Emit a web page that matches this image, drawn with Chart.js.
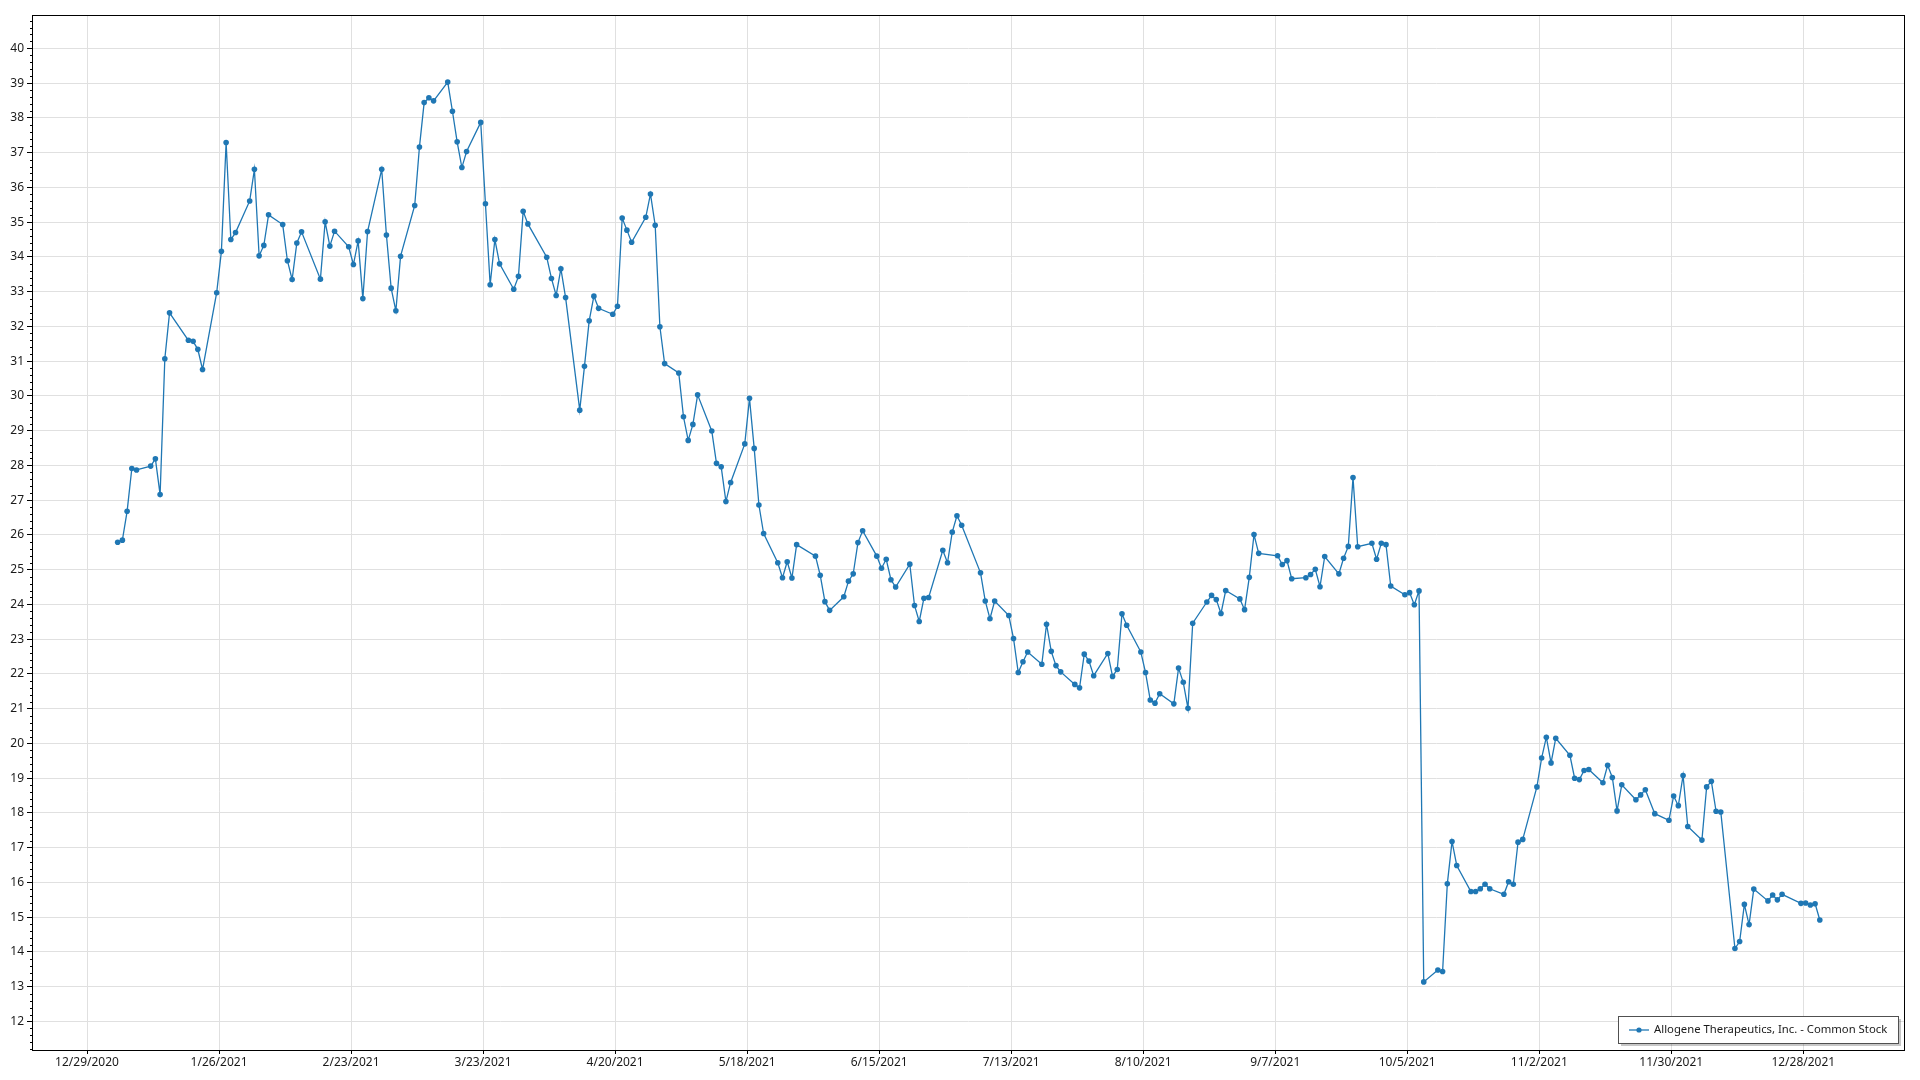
<!DOCTYPE html>
<html>
<head>
<meta charset="utf-8">
<title>Allogene Therapeutics, Inc. - Common Stock</title>
<script src="https://cdn.jsdelivr.net/npm/chart.js@4.4.1/dist/chart.umd.min.js"></script>
<style>
    html, body { margin: 0; padding: 0; background: #fff; }
    #wrap { width: 1920px; height: 1080px; position: relative; }
</style>
</head>
<body>
<div id="wrap"><canvas id="price"></canvas></div>
<script>
// Series name shown in the legend box
const seriesLabel = 'Allogene Therapeutics, Inc. - Common Stock'

// Date ticks on the bottom axis (every 4 weeks)
const tickLabels = [
    '12/29/2020', '1/26/2021', '2/23/2021', '3/23/2021', '4/20/2021',
    '5/18/2021', '6/15/2021', '7/13/2021', '8/10/2021', '9/7/2021',
    '10/5/2021', '11/2/2021', '11/30/2021', '12/28/2021'
]

// Trading days of 2021, one row per month (Jan..Dec)
const tradingDays = [
    [4, 5, 6, 7, 8, 11, 12, 13, 14, 15, 19, 20, 21, 22, 25, 26, 27, 28, 29],
    [1, 2, 3, 4, 5, 8, 9, 10, 11, 12, 16, 17, 18, 19, 22, 23, 24, 25, 26],
    [1, 2, 3, 4, 5, 8, 9, 10, 11, 12, 15, 16, 17, 18, 19, 22, 23, 24, 25, 26, 29, 30, 31],
    [1, 5, 6, 7, 8, 9, 12, 13, 14, 15, 16, 19, 20, 21, 22, 23, 26, 27, 28, 29, 30],
    [3, 4, 5, 6, 7, 10, 11, 12, 13, 14, 17, 18, 19, 20, 21, 24, 25, 26, 27, 28],
    [1, 2, 3, 4, 7, 8, 9, 10, 11, 14, 15, 16, 17, 18, 21, 22, 23, 24, 25, 28, 29, 30],
    [1, 2, 6, 7, 8, 9, 12, 13, 14, 15, 16, 19, 20, 21, 22, 23, 26, 27, 28, 29, 30],
    [2, 3, 4, 5, 6, 9, 10, 11, 12, 13, 16, 17, 18, 19, 20, 23, 24, 25, 26, 27, 30, 31],
    [1, 2, 3, 7, 8, 9, 10, 13, 14, 15, 16, 17, 20, 21, 22, 23, 24, 27, 28, 29, 30],
    [1, 4, 5, 6, 7, 8, 11, 12, 13, 14, 15, 18, 19, 20, 21, 22, 25, 26, 27, 28, 29],
    [1, 2, 3, 4, 5, 8, 9, 10, 11, 12, 15, 16, 17, 18, 19, 22, 23, 24, 26, 29, 30],
    [1, 2, 3, 6, 7, 8, 9, 10, 13, 14, 15, 16, 17, 20, 21, 22, 23, 27, 28, 29, 30, 31]
]

// Closing price for each of those days
const closePrices = [
    [25.79, 25.85, 26.68, 27.91, 27.87, 27.98, 28.19, 27.16, 31.07, 32.39, 31.60, 31.57, 31.34, 30.76, 32.97, 34.16, 37.29, 34.50, 34.70],
    [35.61, 36.52, 34.03, 34.33, 35.21, 34.93, 33.89, 33.35, 34.40, 34.72, 33.36, 35.01, 34.31, 34.74, 34.29, 33.78, 34.46, 32.80, 34.73],
    [36.52, 34.63, 33.10, 32.45, 34.02, 35.48, 37.16, 38.44, 38.58, 38.49, 39.03, 38.19, 37.31, 36.57, 37.03, 37.87, 35.53, 33.20, 34.50, 33.80, 33.07, 33.44, 35.31],
    [34.95, 33.99, 33.38, 32.89, 33.66, 32.83, 29.59, 30.85, 32.16, 32.87, 32.52, 32.35, 32.58, 35.12, 34.77, 34.42, 35.14, 35.81, 34.91, 31.99, 30.93],
    [30.66, 29.40, 28.72, 29.18, 30.03, 28.99, 28.06, 27.96, 26.96, 27.51, 28.62, 29.93, 28.49, 26.86, 26.04, 25.20, 24.77, 25.23, 24.76, 25.72],
    [25.39, 24.84, 24.08, 23.83, 24.22, 24.67, 24.88, 25.78, 26.12, 25.39, 25.04, 25.30, 24.71, 24.50, 25.16, 23.97, 23.51, 24.18, 24.20, 25.56, 25.20, 26.08],
    [26.55, 26.28, 24.91, 24.10, 23.59, 24.10, 23.68, 23.02, 22.04, 22.35, 22.63, 22.28, 23.43, 22.65, 22.24, 22.06, 21.70, 21.60, 22.57, 22.37, 21.95],
    [22.59, 21.93, 22.13, 23.73, 23.40, 22.63, 22.04, 21.25, 21.16, 21.43, 21.14, 22.17, 21.76, 21.01, 23.46, 24.07, 24.26, 24.14, 23.74, 24.40, 24.16, 23.85],
    [24.78, 26.01, 25.47, 25.40, 25.15, 25.26, 24.74, 24.77, 24.86, 25.01, 24.51, 25.38, 24.88, 25.33, 25.67, 27.65, 25.66, 25.76, 25.30, 25.76, 25.72],
    [24.53, 24.28, 24.34, 23.99, 24.39, 13.14, 13.48, 13.44, 15.96, 17.18, 16.49, 15.74, 15.74, 15.82, 15.95, 15.82, 15.66, 16.02, 15.95, 17.16, 17.24],
    [18.75, 19.58, 20.18, 19.44, 20.15, 19.66, 19.00, 18.96, 19.22, 19.25, 18.87, 19.37, 19.02, 18.06, 18.81, 18.38, 18.52, 18.67, 17.98, 17.79, 18.49],
    [18.21, 19.08, 17.61, 17.22, 18.75, 18.91, 18.05, 18.03, 14.10, 14.30, 15.37, 14.79, 15.81, 15.47, 15.64, 15.50, 15.66, 15.40, 15.41, 15.35, 15.39, 14.92]
]

const FONT = "'Segoe UI', 'Noto Sans', sans-serif"
const LINE_COLOR = '#1f77b4'
const startDate = Date.UTC(2020, 11, 29)

// days counted from the first tick (12/29/2020)
function dayNumber(y, m, d) {
    return (Date.UTC(y, m, d) - startDate) / 86400000
}

function parseLabel(s) {
    let parts = s.split('/').map(Number)
    return dayNumber(parts[2], parts[0] - 1, parts[1])
}

const tickDays = tickLabels.map(parseLabel)

// build the {x, y} points, each sits at mid-day like the source chart
let points = []
tradingDays.forEach(function(days, month) {
    days.forEach(function(d, i) {
        points.push({ x: dayNumber(2021, month, d) + 0.5, y: closePrices[month][i] })
    })
})

// frame, minor ticks and the boxed legend in the lower right corner
const framePlugin = {
    id: 'frame',
    afterDraw(chart) {
        const ctx = chart.ctx
        const a = chart.chartArea
        const yScale = chart.scales.y
        ctx.save()

        // Minor ticks every 0.2 on the value axis
        ctx.strokeStyle = '#000'
        ctx.lineWidth = 1
        ctx.beginPath()
        for (let k = Math.ceil(yScale.min * 5); k <= Math.floor(yScale.max * 5); k++) {
            if (k % 5 === 0) continue
            const py = Math.round(yScale.getPixelForValue(k / 5)) + 0.5
            ctx.moveTo(a.left - 2, py)
            ctx.lineTo(a.left, py)
        }
        ctx.stroke()

        // Plot frame
        ctx.strokeRect(a.left + 0.5, a.top + 0.5, a.right - a.left - 1, a.bottom - a.top)

        // Legend box
        ctx.font = '11.3px ' + FONT
        const tw = ctx.measureText(seriesLabel).width
        const bw = Math.round(tw + 47)
        const bh = 27
        const bx = Math.round(a.right - 7 - bw)
        const by = Math.round(a.bottom - 7 - bh)
        ctx.fillStyle = 'rgba(0, 0, 0, 0.22)'
        ctx.fillRect(bx + 3, by + 3, bw, bh)
        ctx.fillStyle = '#fff'
        ctx.fillRect(bx, by, bw, bh)
        ctx.strokeStyle = '#505050'
        ctx.strokeRect(bx + 0.5, by + 0.5, bw, bh)

        const ly = by + bh / 2 + 0.5
        ctx.strokeStyle = LINE_COLOR
        ctx.lineWidth = 1.3
        ctx.beginPath()
        ctx.moveTo(bx + 11, ly)
        ctx.lineTo(bx + 31, ly)
        ctx.stroke()
        ctx.fillStyle = LINE_COLOR
        ctx.beginPath()
        ctx.arc(bx + 21, ly, 2.6, 0, 2 * Math.PI)
        ctx.fill()

        ctx.fillStyle = '#1a1a1a'
        ctx.textBaseline = 'middle'
        ctx.textAlign = 'left'
        ctx.fillText(seriesLabel, bx + 36, ly)
        ctx.restore()
    }
}

window.priceChart = new Chart('price', {
    type: 'line',
    data: {
        datasets: [{
            label: seriesLabel,
            data: points,
            borderColor: LINE_COLOR,
            backgroundColor: LINE_COLOR,
            borderWidth: 1.3,
            pointRadius: 2.8,
            pointBorderWidth: 0,
            pointBackgroundColor: LINE_COLOR,
            tension: 0,
            fill: false
        }]
    },
    options: {
        responsive: true,
        maintainAspectRatio: false,
        animation: false,
        layout: {
            padding: { top: 15, right: 15, left: 0, bottom: 0 }
        },
        scales: {
            x: {
                type: 'linear',
                min: -11.67,
                max: 385.57,
                afterBuildTicks: function(scale) {
                    scale.ticks = tickDays.map(function(v) { return { value: v } })
                },
                afterFit: function(scale) { scale.height = 30 },
                border: { display: false },
                grid: {
                    color: '#e0e0e0',
                    tickColor: '#000',
                    tickLength: 4
                },
                ticks: {
                    autoSkip: false,
                    maxRotation: 0,
                    padding: 1,
                    color: '#1a1a1a',
                    font: { family: FONT, size: 12 },
                    callback: function(value, index) { return tickLabels[index] }
                }
            },
            y: {
                min: 11.18,
                max: 40.96,
                afterBuildTicks: function(scale) {
                    scale.ticks = scale.ticks.filter(function(t) { return Number.isInteger(t.value) })
                },
                afterFit: function(scale) { scale.width = 32 },
                border: { display: false },
                grid: {
                    color: '#e0e0e0',
                    tickColor: '#000',
                    tickLength: 5
                },
                ticks: {
                    stepSize: 1,
                    padding: 3,
                    color: '#1a1a1a',
                    font: { family: FONT, size: 12 }
                }
            }
        },
        plugins: {
            legend: { display: false },
            tooltip: { enabled: false }
        }
    },
    plugins: [framePlugin]
})
</script>
</body>
</html>
